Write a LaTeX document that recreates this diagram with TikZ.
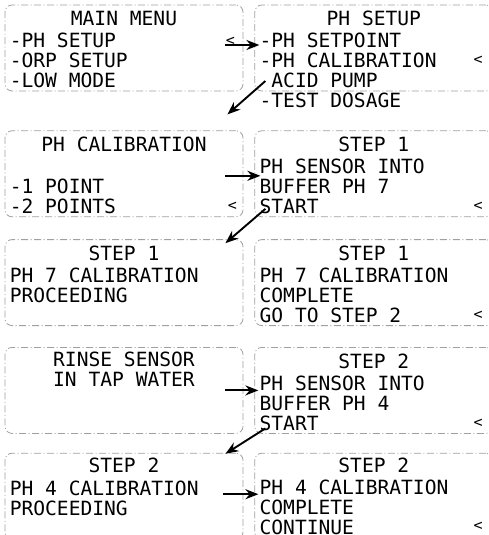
\documentclass[tikz,border=0pt]{standalone}
\usepackage{fontspec}
\usepackage{tikz}
\usetikzlibrary{arrows.meta,positioning,calc}
\newfontfamily\lcdfont{DejaVu Sans Mono}
\definecolor{framegray}{RGB}{160,160,160}
\tikzset{screen/.style={draw=framegray, line width=0.8pt, dash pattern=on 7pt off 2.5pt on 1pt off 2.5pt, rounded corners=7pt, minimum width=238pt, minimum height=86pt, inner sep=0pt}, lcd/.style={font=\lcdfont\fontsize{19.6}{20}\selectfont, inner sep=0pt}, scrhead/.style={lcd, anchor=north, align=center}, scrbody/.style={lcd, anchor=north west, align=left}, cursor/.style={font=\lcdfont\fontsize{15}{15}\selectfont, inner sep=0pt}, edge/.style={-{Stealth[length=13pt,width=10pt]}, line width=1.9pt}}

\begin{document}
\begin{tikzpicture}[x=1pt,y=-1pt,node distance=11pt]
\useasboundingbox (0,0) rectangle (488,535);
\clip (0,0) rectangle (488,535);
\node[screen] (mainmenu) at (124,48) {};
\node[screen,right=of mainmenu] (phsetup) {};
\node[screen,below=39pt of mainmenu] (phcal) {};
\node[screen,right=of phcal] (buf7) {};
\node[screen,below=22pt of phcal] (cal7) {};
\node[screen,right=of cal7] (done7) {};
\node[screen,below=21pt of cal7] (rinse) {};
\node[screen,right=of rinse] (buf4) {};
\node[screen,below=19pt of rinse] (cal4) {};
\node[screen,right=of cal4] (done4) {};
\node[scrhead] (mainmenu-h) at ($(mainmenu.north)+(0,6.5)$) {MAIN MENU};
\node[scrbody] (mainmenu-b) at ($(mainmenu.north west)+(5,28.5)$) {-PH SETUP\\-ORP SETUP\\-LOW MODE};
\node[scrhead] (phsetup-h) at ($(phsetup.north)+(0,6.5)$) {PH SETUP};
\node[scrbody] (phsetup-b) at ($(phsetup.north west)+(5,28.5)$) {-PH SETPOINT\\-PH CALIBRATION\\\phantom{-}ACID PUMP\\-TEST DOSAGE};
\node[scrhead] (phcal-h) at ($(phcal.north)+(0,6.5)$) {PH CALIBRATION};
\node[scrbody] (phcal-b) at ($(phcal.north west)+(5,48.5)$) {-1 POINT\\-2 POINTS};
\node[scrhead] (buf7-h) at ($(buf7.north)+(0,6.5)$) {STEP 1};
\node[scrbody] (buf7-b) at ($(buf7.north west)+(5,28.5)$) {PH SENSOR INTO\\BUFFER PH 7\\START};
\node[scrhead] (cal7-h) at ($(cal7.north)+(0,6.5)$) {STEP 1};
\node[scrbody] (cal7-b) at ($(cal7.north west)+(5,28.5)$) {PH 7 CALIBRATION\\PROCEEDING};
\node[scrhead] (done7-h) at ($(done7.north)+(0,6.5)$) {STEP 1};
\node[scrbody] (done7-b) at ($(done7.north west)+(5,28.5)$) {PH 7 CALIBRATION\\COMPLETE\\GO TO STEP 2};
\node[scrhead] (rinse-h) at ($(rinse.north)+(0,5)$) {RINSE SENSOR\\IN TAP WATER};
\node[scrhead] (buf4-h) at ($(buf4.north)+(0,6.5)$) {STEP 2};
\node[scrbody] (buf4-b) at ($(buf4.north west)+(5,28.5)$) {PH SENSOR INTO\\BUFFER PH 4\\START};
\node[scrhead] (cal4-h) at ($(cal4.north)+(0,5)$) {STEP 2};
\node[scrbody] (cal4-b) at ($(cal4.north west)+(5,27.5)$) {PH 4 CALIBRATION\\PROCEEDING};
\node[scrhead] (done4-h) at ($(done4.north)+(0,5)$) {STEP 2};
\node[scrbody] (done4-b) at ($(done4.north west)+(5,26.5)$) {PH 4 CALIBRATION\\COMPLETE\\CONTINUE};
\node[cursor] (mainmenu-c) at ($(mainmenu.east)+(-13,-7)$) {<};
\node[cursor] (phsetup-c) at ($(phsetup.east)+(-15,12)$) {<};
\node[cursor] (phcal-c) at ($(phcal.east)+(-11,33)$) {<};
\node[cursor] (buf7-c) at ($(buf7.east)+(-15,33)$) {<};
\node[cursor] (done7-c) at ($(done7.east)+(-15,33)$) {<};
\node[cursor] (buf4-c) at ($(buf4.east)+(-15,33)$) {<};
\node[cursor] (done4-c) at ($(done4.east)+(-15,30)$) {<};
\draw[edge] ($(mainmenu.east)+(-18,-3)$) -- ($(phsetup.west)+(5,-3)$);
\draw[edge] ($(phsetup.west)+(11,33)$) -- ($(phcal.north east)+(-16,-16)$);
\draw[edge] ($(phcal.east)+(-18,2)$) -- ($(buf7.west)+(6,2)$);
\draw[edge] ($(buf7.west)+(11,35)$) -- ($(cal7.north east)+(-18,4)$);
\draw[edge] ($(rinse.east)+(-18,0)$) -- ($(buf4.west)+(4,0)$);
\draw[edge] ($(buf4.west)+(11,38)$) -- ($(cal4.north east)+(-18,1)$);
\draw[edge] ($(cal4.east)+(-20,-2)$) -- ($(done4.west)+(4,-2)$);
\end{tikzpicture}
\end{document}
